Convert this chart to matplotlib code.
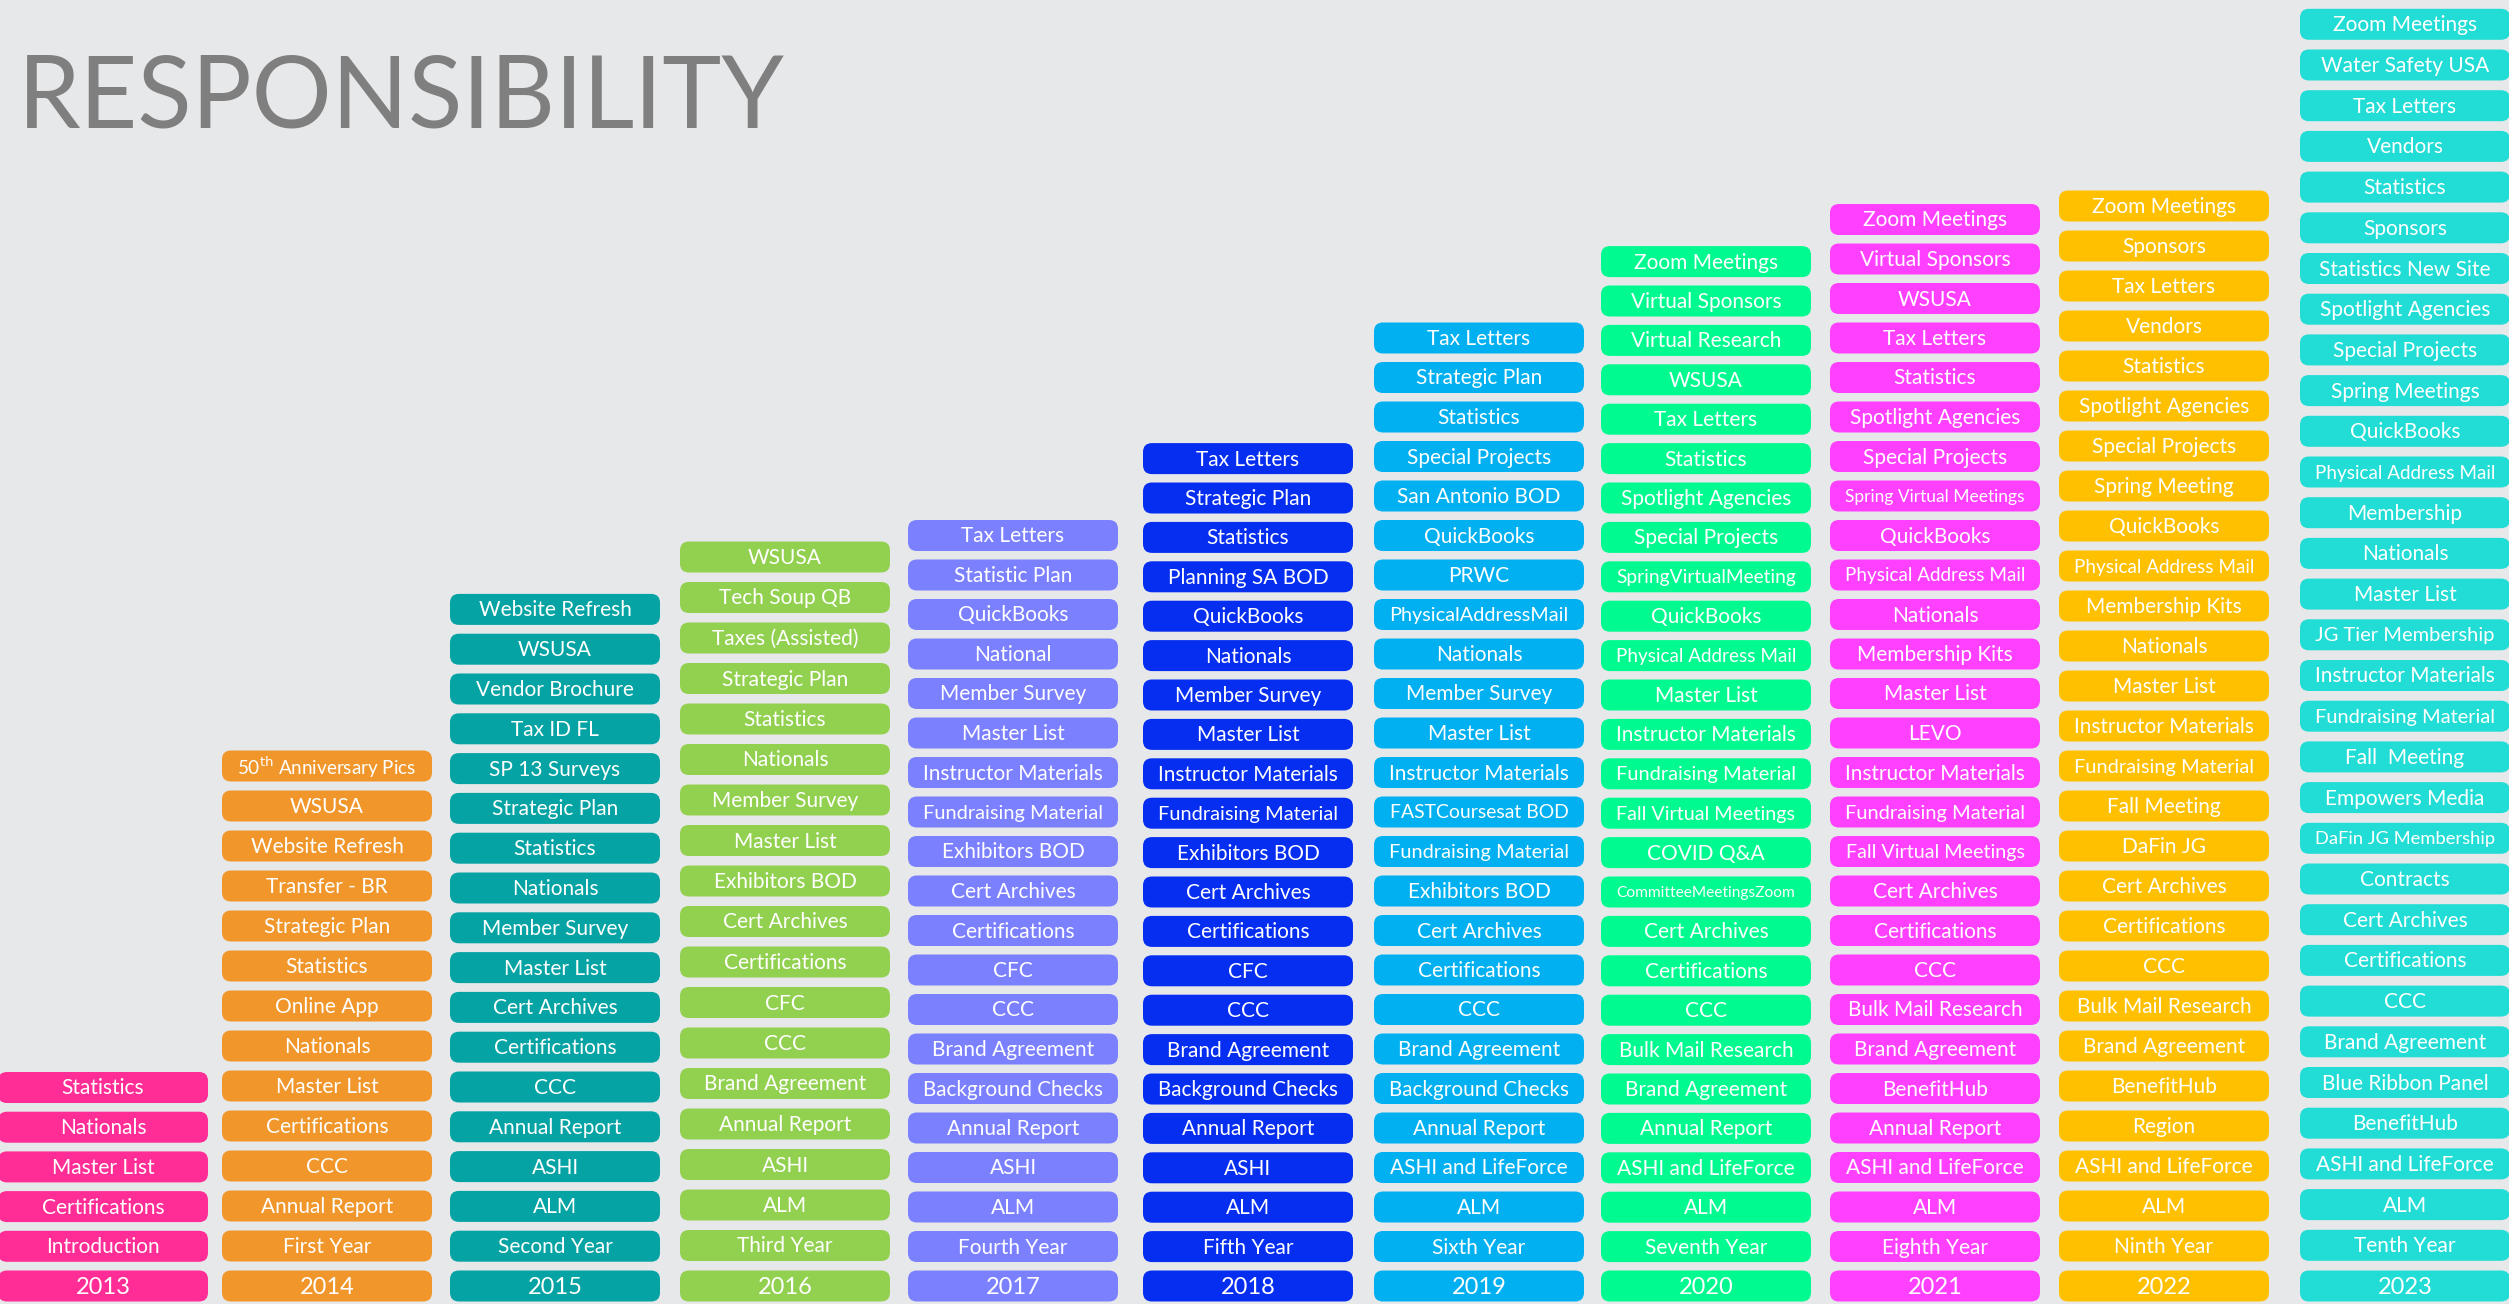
import matplotlib
matplotlib.use("Agg")
import matplotlib.pyplot as plt
from matplotlib.patches import FancyBboxPatch

# responsibilities per year, listed top to bottom as in the picture
years = ["2013", "2014", "2015", "2016", "2017", "2018",
         "2019", "2020", "2021", "2022", "2023"]

col_2013 = ["Statistics", "Nationals", "Master List", "Certifications",
            "Introduction", "2013"]

col_2014 = [r"50$^{\mathrm{th}}$ Anniversary Pics", "WSUSA", "Website Refresh",
            "Transfer - BR", "Strategic Plan", "Statistics", "Online App",
            "Nationals", "Master List", "Certifications", "CCC",
            "Annual Report", "First Year", "2014"]

col_2015 = ["Website Refresh", "WSUSA", "Vendor Brochure", "Tax ID FL",
            "SP 13 Surveys", "Strategic Plan", "Statistics", "Nationals",
            "Member Survey", "Master List", "Cert Archives", "Certifications",
            "CCC", "Annual Report", "ASHI", "ALM", "Second Year", "2015"]

col_2016 = ["WSUSA", "Tech Soup QB", "Taxes (Assisted)", "Strategic Plan",
            "Statistics", "Nationals", "Member Survey", "Master List",
            "Exhibitors BOD", "Cert Archives", "Certifications", "CFC", "CCC",
            "Brand Agreement", "Annual Report", "ASHI", "ALM", "Third Year",
            "2016"]

col_2017 = ["Tax Letters", "Statistic Plan", "QuickBooks", "National",
            "Member Survey", "Master List", "Instructor Materials",
            "Fundraising Material", "Exhibitors BOD", "Cert Archives",
            "Certifications", "CFC", "CCC", "Brand Agreement",
            "Background Checks", "Annual Report", "ASHI", "ALM",
            "Fourth Year", "2017"]

col_2018 = ["Tax Letters", "Strategic Plan", "Statistics", "Planning SA BOD",
            "QuickBooks", "Nationals", "Member Survey", "Master List",
            "Instructor Materials", "Fundraising Material", "Exhibitors BOD",
            "Cert Archives", "Certifications", "CFC", "CCC", "Brand Agreement",
            "Background Checks", "Annual Report", "ASHI", "ALM",
            "Fifth Year", "2018"]

col_2019 = ["Tax Letters", "Strategic Plan", "Statistics", "Special Projects",
            "San Antonio BOD", "QuickBooks", "PRWC", "PhysicalAddressMail",
            "Nationals", "Member Survey", "Master List", "Instructor Materials",
            "FASTCoursesat BOD", "Fundraising Material", "Exhibitors BOD",
            "Cert Archives", "Certifications", "CCC", "Brand Agreement",
            "Background Checks", "Annual Report", "ASHI and LifeForce", "ALM",
            "Sixth Year", "2019"]

col_2020 = ["Zoom Meetings", "Virtual Sponsors", "Virtual Research", "WSUSA",
            "Tax Letters", "Statistics", "Spotlight Agencies",
            "Special Projects", "SpringVirtualMeeting", "QuickBooks",
            "Physical Address Mail", "Master List", "Instructor Materials",
            "Fundraising Material", "Fall Virtual Meetings", "COVID Q&A",
            "CommitteeMeetingsZoom", "Cert Archives", "Certifications", "CCC",
            "Bulk Mail Research", "Brand Agreement", "Annual Report",
            "ASHI and LifeForce", "ALM", "Seventh Year", "2020"]

col_2021 = ["Zoom Meetings", "Virtual Sponsors", "WSUSA", "Tax Letters",
            "Statistics", "Spotlight Agencies", "Special Projects",
            "Spring Virtual Meetings", "QuickBooks", "Physical Address Mail",
            "Nationals", "Membership Kits", "Master List", "LEVO",
            "Instructor Materials", "Fundraising Material",
            "Fall Virtual Meetings", "Cert Archives", "Certifications", "CCC",
            "Bulk Mail Research", "Brand Agreement", "BenefitHub",
            "Annual Report", "ASHI and LifeForce", "ALM", "Eighth Year",
            "2021"]

col_2022 = ["Zoom Meetings", "Sponsors", "Tax Letters", "Vendors", "Statistics",
            "Spotlight Agencies", "Special Projects", "Spring Meeting",
            "QuickBooks", "Physical Address Mail", "Membership Kits",
            "Nationals", "Master List", "Instructor Materials",
            "Fundraising Material", "Fall Meeting", "DaFin JG",
            "Cert Archives", "Certifications", "CCC", "Bulk Mail Research",
            "Brand Agreement", "BenefitHub", "Region", "ASHI and LifeForce",
            "ALM", "Ninth Year", "2022"]

col_2023 = ["Zoom Meetings", "Water Safety USA", "Tax Letters", "Vendors",
            "Statistics", "Sponsors", "Statistics New Site",
            "Spotlight Agencies", "Special Projects", "Spring Meetings",
            "QuickBooks", "Physical Address Mail", "Membership", "Nationals",
            "Master List", "JG Tier Membership", "Instructor Materials",
            "Fundraising Material", "Fall  Meeting", "Empowers Media",
            "DaFin JG Membership", "Contracts", "Cert Archives",
            "Certifications", "CCC", "Brand Agreement", "Blue Ribbon Panel",
            "BenefitHub", "ASHI and LifeForce", "ALM", "Tenth Year", "2023"]

columns = [col_2013, col_2014, col_2015, col_2016, col_2017, col_2018,
           col_2019, col_2020, col_2021, col_2022, col_2023]

colors = ["#FF2D95", "#F0962A", "#05A3A3", "#92D050", "#7B80FF", "#062EF0",
          "#00B0F0", "#00FA90", "#FF40FF", "#FFC000", "#22DDD6"]

# layout (pixels)
W, H = 2509, 1304
bg = "#E7E8EA"
col_x = [103, 327, 555, 785, 1013, 1248, 1479, 1706, 1935, 2164, 2405]
col_pitch = [39.7, 40.0, 39.8, 40.5, 39.5, 39.4, 39.5, 39.4, 39.5, 40.0, 40.7]
box_w, box_h = 210, 31
bottom_y = 1286
font = ["Lato", "DejaVu Sans"]

fig = plt.figure(figsize=(W / 100, H / 100), dpi=100)
fig.patch.set_facecolor(bg)
ax = fig.add_axes([0, 0, 1, 1])
ax.set_xlim(0, W)
ax.set_ylim(H, 0)
ax.axis("off")

ax.text(18, 128, "RESPONSIBILITY", color="#7F7F7F", fontsize=72,
        family=font, va="baseline", ha="left")

labels = []
for xc, pitch, items, color in zip(col_x, col_pitch, columns, colors):
    n = len(items)
    for k, label in enumerate(items):
        yc = bottom_y - (n - 1 - k) * pitch
        box = FancyBboxPatch((xc - box_w / 2, yc - box_h / 2), box_w, box_h,
                             boxstyle="round,pad=0,rounding_size=9",
                             facecolor=color, edgecolor="none")
        ax.add_patch(box)
        size = 17 if label in years else 15
        t = ax.text(xc, yc + 1, label, color="white", fontsize=size,
                    family=font, ha="center", va="center")
        labels.append(t)

# shrink labels that do not fit in their box
renderer = fig.canvas.get_renderer()
for t in labels:
    w = t.get_window_extent(renderer).width
    if w > 180:
        t.set_fontsize(t.get_fontsize() * 180 / w)

fig.savefig("out.png", dpi=100, facecolor=bg)
